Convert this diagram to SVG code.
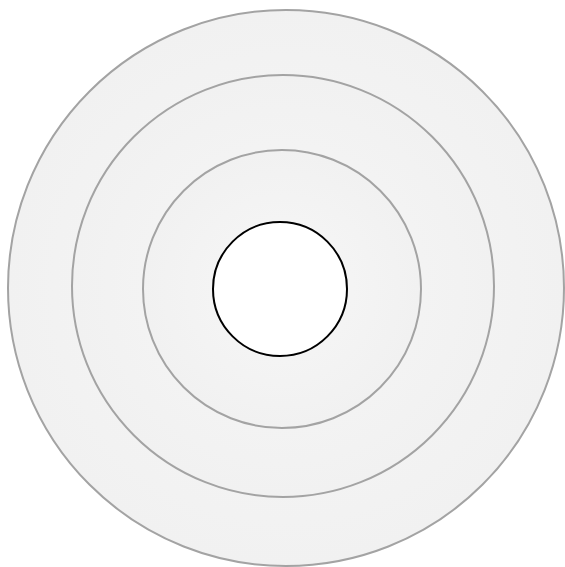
<svg xmlns="http://www.w3.org/2000/svg" width="565" height="567" viewBox="0 0 565 567">
<defs>
<radialGradient id="g" cx="0.5" cy="0.5" r="0.5">
<stop offset="0" stop-color="#f7f7f7"/>
<stop offset="1" stop-color="#f1f1f1"/>
</radialGradient>
</defs>
<style>
.ring{fill:url(#g);stroke:#a3a3a3;stroke-width:2}
.core{fill:#ffffff;stroke:#000000;stroke-width:2}
</style>
<g id="ring1"><circle class="ring" cx="286" cy="288" r="278"/></g>
<g id="ring2"><circle class="ring" cx="283" cy="286" r="211"/></g>
<g id="ring3"><circle class="ring" cx="282" cy="289" r="139"/></g>
<g id="core"><circle class="core" cx="280" cy="289" r="67"/></g>
<g id="connectors"></g>
</svg>
